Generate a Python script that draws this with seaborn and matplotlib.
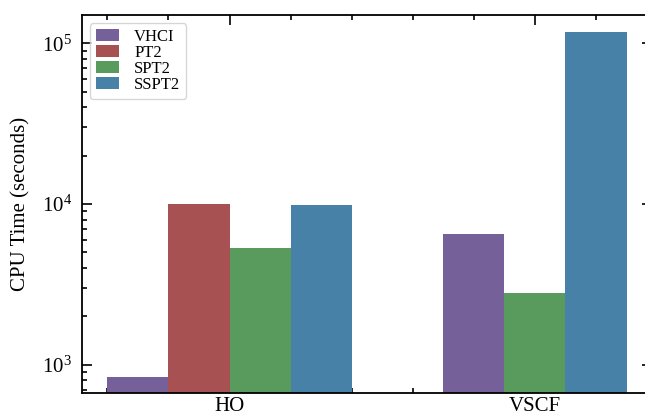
import pandas as pd
import numpy as np

import matplotlib
matplotlib.use("Agg")
import matplotlib.pyplot as plt
from matplotlib.ticker import MultipleLocator
import seaborn as sns

# data
categories = ["HO", "VSCF"]
methods = ["VHCI", "PT2", "SPT2", "SSPT2"]
ho_times = [840, 10050, 5300, 9900]
vscf_methods = ["VHCI", "SPT2", "SSPT2"]
vscf_times = [6500, 2800, 117000]
colors = ["#76609a", "#a85152", "#589b5d", "#4881a8"]

sns.set_style("ticks", {"axes.edgecolor": "black", "xtick.color": "black",
                        "ytick.color": "black", "text.color": "black",
                        "axes.labelcolor": "black"})
plt.rcParams["font.family"] = ["Liberation Serif", "DejaVu Serif"]
plt.rcParams["mathtext.fontset"] = "stix"

pal = dict(zip(methods, colors))

df_ho = pd.DataFrame({"Basis": "HO", "Method": methods, "Time": ho_times})
df_vscf = pd.DataFrame({"Basis": "VSCF", "Method": vscf_methods, "Time": vscf_times})

fig = plt.figure(figsize=(6.45, 4.2), dpi=100)
ax = fig.add_axes([0.1267, 0.0636, 0.884, 0.9007])

sns.barplot(data=df_ho, x="Basis", y="Time", hue="Method", order=categories,
            hue_order=methods, palette=pal, saturation=1, width=0.8,
            linewidth=0, ax=ax)
sns.barplot(data=df_vscf, x="Basis", y="Time", hue="Method", order=categories,
            hue_order=vscf_methods, palette=pal, saturation=1, width=0.6,
            linewidth=0, legend=False, ax=ax)

ax.set_yscale("log")
ax.set_ylim(664, 150000)
ax.set_xlim(-0.484, 1.383)
ax.xaxis.set_minor_locator(MultipleLocator(0.2))

ax.set_xlabel("")
ax.set_ylabel("CPU Time (seconds)", fontsize=15, labelpad=8)

for sp in ax.spines.values():
    sp.set_linewidth(1.3)
ax.tick_params(which="both", direction="in", top=True, right=True, width=1.2,
               labelsize=15)
ax.tick_params(axis="y", pad=7)
ax.tick_params(axis="x", pad=3)
ax.tick_params(which="major", length=7.5)
ax.tick_params(which="minor", length=3.8)

handles, labels = ax.get_legend_handles_labels()
ax.legend(handles[:4], labels[:4], loc="upper left", fontsize=12,
          labelspacing=0.0, handlelength=1.4, handletextpad=0.9,
          borderpad=0.35, borderaxespad=0.5)

fig.savefig("out.png", dpi=100)
